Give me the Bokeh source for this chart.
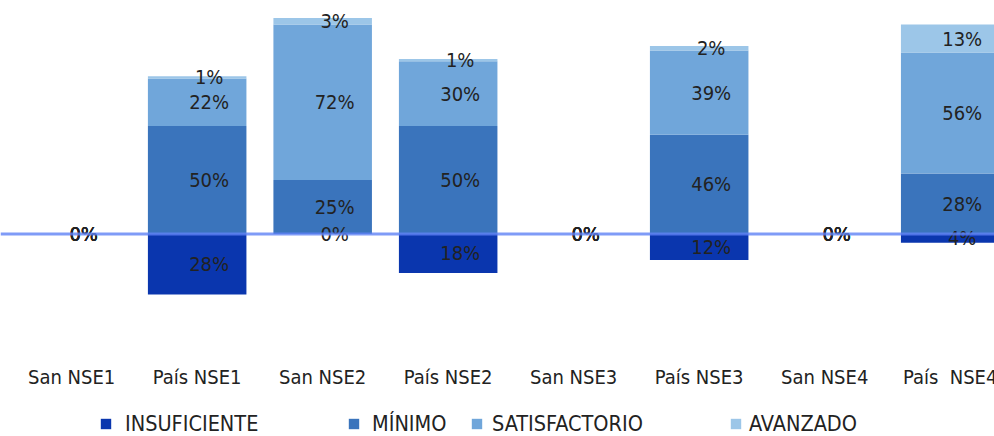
from bokeh.plotting import figure
from bokeh.models import ColumnDataSource, Range1d, Span, Legend, LegendItem
from bokeh.core.properties import value
from bokeh.embed import file_html
from bokeh.resources import INLINE

# ---- data ----
categories = ["San NSE1", "País NSE1", "San NSE2", "País NSE2",
              "San NSE3", "País NSE3", "San NSE4", "País\u00a0 NSE4"]
insuficiente = [0, 28, 0, 18, 0, 12, 0, 4]
minimo = [0, 50, 25, 50, 0, 46, 0, 28]
satisfactorio = [0, 22, 72, 30, 0, 39, 0, 56]
avanzado = [0, 1, 3, 1, 0, 2, 0, 13]
series_names = ["INSUFICIENTE", "MÍNIMO", "SATISFACTORIO", "AVANZADO"]
colors = ["#0a36ae", "#3a74bc", "#70a6da", "#9cc6e8"]

FONT = "DejaVu Sans Condensed"
TXT = "#222222"
FS = "20px"

idx = list(range(len(categories)))

p = figure(width=994, height=436, x_range=Range1d(-0.567, 7.353),
           y_range=Range1d(-93.75, 108.1), min_border=0,
           toolbar_location=None, output_backend="svg",
           x_axis_location=None, y_axis_location=None)
p.outline_line_color = None
p.grid.visible = False

W = 0.785
# stacked segments: insuficiente goes below zero
b0 = [-v for v in insuficiente]
t0 = [0] * len(idx)
b1 = [0] * len(idx)
t1 = minimo[:]
b2 = t1[:]
t2 = [m + s for m, s in zip(minimo, satisfactorio)]
b3 = t2[:]
t3 = [m + s + a for m, s, a in zip(minimo, satisfactorio, avanzado)]

bottoms = [b0, b1, b2, b3]
tops = [t0, t1, t2, t3]
vals = [insuficiente, minimo, satisfactorio, avanzado]

bar_rs = []
for k in range(4):
    src = ColumnDataSource(dict(x=idx, bottom=bottoms[k], top=tops[k]))
    r = p.vbar(x="x", bottom="bottom", top="top", width=W, source=src,
               fill_color=colors[k], line_color=None)
    bar_rs.append(r)

# zero axis line
p.add_layout(Span(location=0, dimension="width", line_color="#5f82f5",
                  line_width=3, line_alpha=0.8))

# data labels
lx, ly, lt = [], [], []
for k in range(4):
    for i in idx:
        lx.append(i)
        ly.append((bottoms[k][i] + tops[k][i]) / 2)
        lt.append(f"{vals[k][i]}%")
lab_src = ColumnDataSource(dict(x=lx, y=ly, text=lt))
p.text(x="x", y="y", text="text", source=lab_src, x_offset=12,
       text_align="center", text_baseline="middle",
       text_font=value(FONT), text_font_size=FS, text_color=TXT)

# category labels
cat_src = ColumnDataSource(dict(x=idx, y=[-66.2] * len(idx), text=categories))
p.text(x="x", y="y", text="text", source=cat_src,
       text_align="center", text_baseline="middle",
       text_font=value(FONT), text_font_size=FS, text_color=TXT)

# legend (separate items, positioned like the original)
legend_x = [99, 347, 470, 729]
standoffs = [13, 12, 9, 7]
for k in range(4):
    leg = Legend(items=[LegendItem(label=series_names[k], renderers=[bar_rs[k]])],
                 location=(legend_x[k], 0), orientation="horizontal",
                 glyph_width=13, glyph_height=13, label_height=13,
                 label_standoff=standoffs[k], padding=0, spacing=0, margin=0,
                 border_line_color=None, background_fill_alpha=0,
                 label_text_font=FONT, label_text_font_size="21.5px",
                 label_text_color=TXT)
    p.add_layout(leg)

open("out.html", "w").write(file_html(p, INLINE))
